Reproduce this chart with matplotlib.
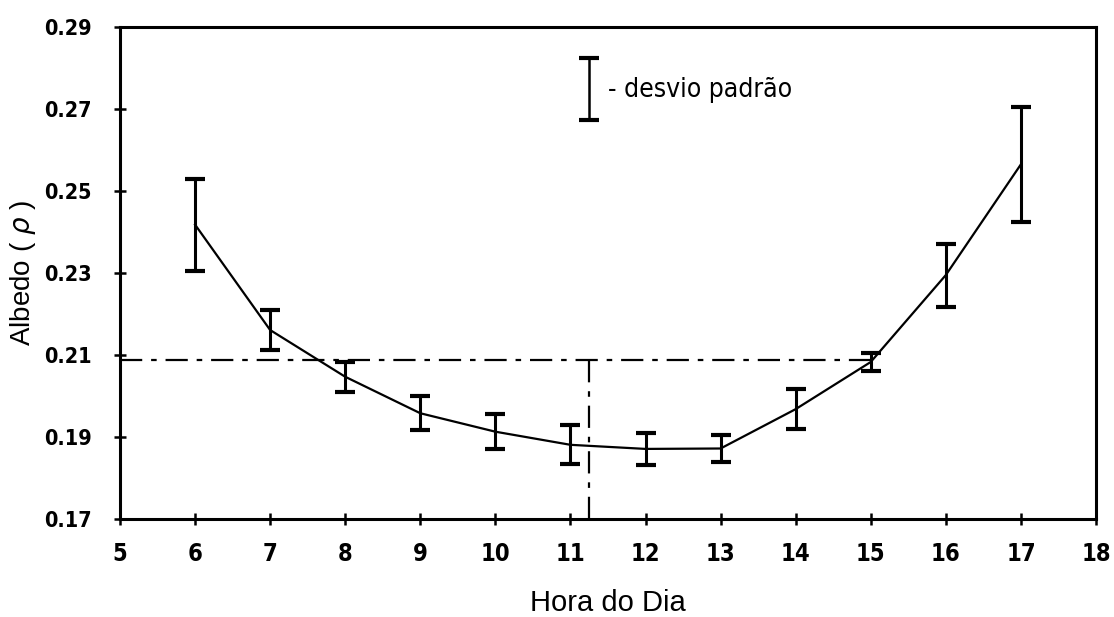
import matplotlib
matplotlib.use("Agg")
import matplotlib.pyplot as plt

# Hourly mean albedo and its standard deviation
hours = [6, 7, 8, 9, 10, 11, 12, 13, 14, 15, 16, 17]
albedo = [0.2418, 0.2161, 0.2047, 0.1958, 0.1913, 0.1881, 0.1871, 0.1872,
          0.1968, 0.2083, 0.2295, 0.2565]
std_dev = [0.0112, 0.0049, 0.0036, 0.0042, 0.0043, 0.0048, 0.0040, 0.0032,
           0.0048, 0.0022, 0.0077, 0.0140]

# Daily mean albedo and the hour at which it is reached
mean_albedo = 0.2087
mean_hour = 11.25

x_ticks = list(range(5, 19))
y_ticks = [0.17, 0.19, 0.21, 0.23, 0.25, 0.27, 0.29]
y_tick_labels = ["0.17", "0.19", "0.21", "0.23", "0.25", "0.27", "0.29"]

label_font = ["Liberation Sans", "DejaVu Sans"]

fig = plt.figure(figsize=(11.14, 6.17), dpi=100)
ax = fig.add_axes([0.1077, 0.1588, 0.8761, 0.7974])

ax.plot(hours, albedo, color="black", lw=1.6, zorder=3)
ax.errorbar(hours, albedo, yerr=std_dev, fmt="none", ecolor="black",
            elinewidth=2.2, capsize=7, capthick=3, zorder=4)

# Reference lines for the mean albedo
ax.plot([5, 15], [mean_albedo, mean_albedo], color="black", lw=1.6,
        linestyle=(0, (10, 4, 2.5, 4)), zorder=2)
ax.plot([mean_hour, mean_hour], [0.17, mean_albedo], color="black", lw=1.6,
        linestyle=(0, (10, 4, 2.5, 4)), zorder=2)

# Key for the error bars
ax.errorbar([mean_hour], [0.27485], yerr=[0.0076], fmt="none", ecolor="black",
            elinewidth=1.8, capsize=7, capthick=3)
ax.text(11.5, 0.2746, "- desvio padrão", fontsize=19, family="DejaVu Sans",
        stretch="condensed", va="center", ha="left")

ax.set_xlim(5, 18)
ax.set_ylim(0.17, 0.29)
ax.set_xticks(x_ticks)
ax.set_yticks(y_ticks)
ax.set_yticklabels(y_tick_labels)

for s in ax.spines.values():
    s.set_linewidth(2.2)
    s.set_color("black")

ax.tick_params(axis="both", direction="inout", length=9, width=1.8,
               colors="black")
ax.tick_params(axis="y", pad=16, labelsize=15.5)
ax.tick_params(axis="x", pad=12, labelsize=17)
for lbl in ax.get_xticklabels() + ax.get_yticklabels():
    lbl.set_family("DejaVu Sans")
    lbl.set_stretch("condensed")
    lbl.set_fontweight("bold")

ax.set_xlabel("Hora do Dia", fontsize=21, family=label_font)
ax.set_ylabel("Albedo ( $\\rho$ )", fontsize=20, family=label_font)
ax.xaxis.set_label_coords(0.5, -0.142)
ax.yaxis.set_label_coords(-0.084, 0.5)

fig.savefig("out.png", dpi=100, facecolor="white")
